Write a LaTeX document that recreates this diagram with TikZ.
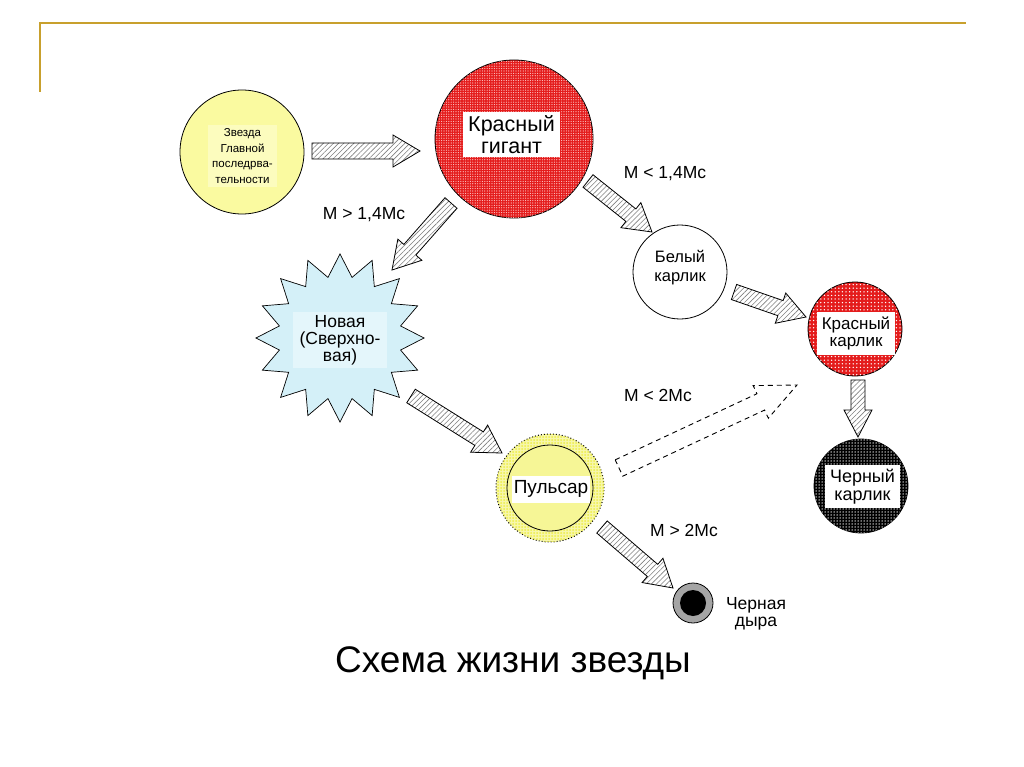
\documentclass[tikz,border=0pt]{standalone}
\usepackage{fontspec}
\setmainfont{Liberation Sans}
\usetikzlibrary{calc,shapes.geometric,patterns.meta}
\definecolor{gold}{RGB}{200,160,45}
\definecolor{msyellow}{RGB}{250,250,160}
\definecolor{msyellowlt}{RGB}{252,252,190}
\definecolor{novacyan}{RGB}{212,240,248}
\definecolor{novacyanlt}{RGB}{228,246,251}
\definecolor{giantred}{RGB}{228,28,28}
\definecolor{pulsyellow}{RGB}{246,246,150}
\definecolor{ringyellow}{RGB}{238,238,70}
\definecolor{holegray}{RGB}{165,165,165}
\begin{document}
\begin{tikzpicture}[x=1pt,y=-1pt,
  harrow/.style n args={3}{to path={
    ($(\tikztostart)!#1!90:(\tikztotarget)$)
    -- ($($(\tikztotarget)!#3!(\tikztostart)$)!#1!90:(\tikztotarget)$)
    -- ($($(\tikztotarget)!#3!(\tikztostart)$)!#2!90:(\tikztotarget)$)
    -- (\tikztotarget)
    -- ($($(\tikztotarget)!#3!(\tikztostart)$)!#2!-90:(\tikztotarget)$)
    -- ($($(\tikztotarget)!#3!(\tikztostart)$)!#1!-90:(\tikztotarget)$)
    -- ($(\tikztostart)!#1!-90:(\tikztotarget)$) -- cycle}},
  hatchfill/.style={draw=black, line width=0.8pt, preaction={fill=white},
    pattern={Lines[angle=45,distance=3.6pt,line width=0.6pt]}, pattern color=black!50},
  hatcharrow/.style={harrow={8pt}{16pt}{27pt}, hatchfill},
  dasharrow/.style={harrow={9pt}{18pt}{40pt}, draw=black, line width=0.9pt,
    dash pattern=on 5pt off 4pt},
  star/.style={circle, draw=black, line width=0.8pt, inner sep=0pt},
  lbl/.style={font=\fontsize{17.5}{20}\selectfont, inner sep=0pt},
  textbox/.style={align=center, inner sep=0pt},
]
\useasboundingbox (0,0) rectangle (1024,767);
\fill[white] (0,0) rectangle (1024,767);
% frame lines
\draw[gold, line width=1.6pt] (40,92) -- (40,23) -- (966,23);

% main sequence star
\node[star, fill=msyellow, minimum size=124pt] (ms) at (242,152) {};
\node[textbox, fill=msyellowlt, minimum width=69pt, minimum height=62pt,
  font=\fontsize{11.5}{15.5}\selectfont] (mst) at (242.5,156) {Звезда\\Главной\\последрва-\\тельности};

% red giant
\node[star, fill=giantred, minimum size=158pt,
  postaction={pattern={Dots[radius=0.6pt,distance=2.4pt]}, pattern color=white!80!red}] (rg) at (514,139) {};
\node[textbox, fill=white, minimum width=97pt, minimum height=45pt,
  font=\fontsize{21.5}{22}\selectfont] (rgt) at (511.5,134.5) {Красный\\гигант};

% white dwarf
\node[star, fill=white, minimum size=94pt] (wd) at (680,272) {};
\node[textbox, font=\fontsize{16.5}{19}\selectfont] (wdt) at (680,268) {Белый\\карлик};

% red dwarf
\node[star, fill=giantred, minimum size=94pt,
  postaction={pattern={Dots[radius=0.75pt,distance=3.6pt]}, pattern color=white}] (rd) at (855,329) {};
\node[textbox, fill=white, minimum width=78pt, minimum height=43pt,
  font=\fontsize{17}{17}\selectfont] (rdt) at (856,333.5) {Красный\\карлик};

% black dwarf
\node[star, fill=black, minimum size=94pt,
  postaction={pattern={Dots[radius=0.75pt,distance=3pt]}, pattern color=white!90!black}] (bd) at (861,486) {};
\node[textbox, fill=white, minimum width=75pt, minimum height=43pt,
  font=\fontsize{18}{18}\selectfont] (bdt) at (862.5,486.5) {Черный\\карлик};

% nova
\node[star, shape=star, star points=16, star point ratio=1.36, minimum size=168pt,
  fill=novacyan, line width=0.7pt] (nv) at (340,338) {};
\node[textbox, fill=novacyanlt, minimum width=94pt, minimum height=56pt,
  font=\fontsize{17.5}{17}\selectfont] (nvt) at (340,340) {Новая\\(Сверхно-\\вая)};

% pulsar
\node[circle, minimum size=108pt, fill=ringyellow!45!white, draw=black, dotted, line width=1pt,
  postaction={pattern={Dots[radius=1pt,distance=3pt]}, pattern color=ringyellow}] (psr) at (550,488) {};
\node[star, fill=pulsyellow, minimum size=86pt] (ps) at (550,488) {};
\node[textbox, fill=white, minimum width=78pt, minimum height=27pt,
  font=\fontsize{19}{20}\selectfont] (pst) at (551,489) {Пульсар};

% black hole
\node[star, fill=holegray, minimum size=40pt] (bh) at (693,603) {};
\node[circle, fill=black, minimum size=26pt, inner sep=0pt] (bhc) at (693,603) {};
\node[textbox, font=\fontsize{17.5}{17.5}\selectfont, anchor=center] (bht) at (756,614) {Черная\\дыра};

% mass labels
\node[lbl] (l1) at (364,215) {M > 1,4Mc};
\node[lbl] (l2) at (665,174) {M < 1,4Mc};
\node[lbl] (l3) at (658,395) {M < 2Mc};
\node[lbl] (l4) at (684,530) {M > 2Mc};

% title
\node[font=\fontsize{37}{40}\selectfont, inner sep=0pt] (tt) at (513,663) {Схема жизни звезды};

% arrow end points
\coordinate (a1s) at (312,151);  \coordinate (a1t) at (420,151);
\coordinate (a2s) at (451,203);  \coordinate (a2t) at (392,270);
\coordinate (a3s) at (588,181);  \coordinate (a3t) at (652,232);
\coordinate (a4s) at (734,292);  \coordinate (a4t) at (806,317);
\coordinate (a5s) at (858,380);  \coordinate (a5t) at (858,437);
\coordinate (a6s) at (411,396);  \coordinate (a6t) at (502,453);
\coordinate (a7s) at (602,527);  \coordinate (a7t) at (673,588);
\coordinate (a8s) at (619,468);  \coordinate (a8t) at (797,385);

\draw[hatcharrow] (a1s) to (a1t);
\draw[hatcharrow] (a2s) to (a2t);
\draw[hatcharrow] (a3s) to (a3t);
\draw[hatcharrow] (a4s) to (a4t);
\draw[harrow={7pt}{14pt}{27pt}, hatchfill] (a5s) to (a5t);
\draw[hatcharrow] (a6s) to (a6t);
\draw[hatcharrow] (a7s) to (a7t);
\draw[dasharrow] (a8s) to (a8t);
\end{tikzpicture}
\end{document}
